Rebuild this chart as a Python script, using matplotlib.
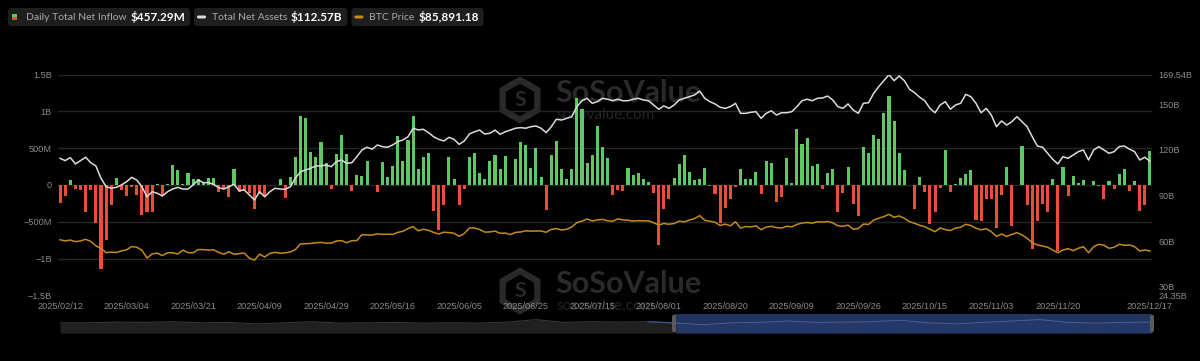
import numpy as np
import pandas as pd
import matplotlib
matplotlib.use("Agg")
import matplotlib.pyplot as plt
import matplotlib.transforms as mtransforms
from matplotlib.patches import FancyBboxPatch, RegularPolygon

plt.rcParams["font.family"] = ["Liberation Sans", "DejaVu Sans"]

W, H = 1200, 361

# trading days shown in the window
holidays = ["2025-02-17", "2025-04-18", "2025-05-26", "2025-06-19",
            "2025-07-04", "2025-09-01", "2025-11-27"]
dates = [d for d in pd.bdate_range("2025-02-12", "2025-12-17")
         if d.strftime("%Y-%m-%d") not in holidays]

# daily total net inflow, $M
inflow_m = [
    # Feb
    -251, -156, 70, -60, -65, -365, -62, -517, -1138, -754, -276, 94,
    # Mar
    -74, -143, -22, -134, -409, -371, -371, 13, -135, 17, 275, 209, 11, 165, 83,
    84, 27, 89, 89, -93, -60,
    # Apr
    -157, 220, -100, -65, -103, -326, -127, -150, 2, 2, 76, -170, 107, 381, 936,
    917, 442, 380, 591, 300, -56,
    # May
    422, 675, 425, -86, 142, 117, 321, 5, -91, 319, 115, 260, 667, 329, 608,
    935, 211, 385, 433, -358, -616,
    # Jun
    -268, 387, 87, -278, -48, 387, 431, 165, 86, 322, 412, 216, 389, 6, 350,
    588, 548, 226, 501, 102,
    # Jul
    -343, 407, 602, 217, 80, 218, 1180, 1030, 297, 403, 799, 523, 363, -131,
    -68, -86, 227, 131, 157, 80, 47, -114,
    # Aug
    -812, -333, -196, 91, 281, 404, 178, 66, 86, 231, -14, -122, -523, -311,
    -194, -23, 219, 88, 81, 179, -126,
    # Sep
    333, 301, -227, -160, 365, 23, 757, 553, 642, 260, 292, -51, 163, 223,
    -363, -104, 241, -258, -418, 522, 430,
    # Oct
    676, 627, 985, 1210, 875, 441, 198, -4.5, -327, 102, -94, -537, -367, -40,
    477, -101, 20, 90, 149, 202, -471, -488, -191,
    # Nov
    -187, -578, -137, 240, -558, 1, 524, -278, -870, -492, -254, -373, 75,
    -903, 238, -151, 129, 21, 71,
    # Dec
    -4, 58, -14, -195, 55, -60, 152, 224, -78, 49, -358, -277, 457.29,
]

# total net assets, $B
net_assets_b = [
    114.5, 113.0, 115.0, 110.8, 113.0, 115.2, 111.6, 109.5, 101.4, 95.8,
    94.8, 95.4, 97.0, 99.1, 102.0, 100.2, 95.8, 89.2, 92.5, 91.5,
    89.7, 92.5, 94.3, 95.4, 94.3, 94.3, 97.0, 100.2, 98.5, 98.5,
    97.4, 95.2, 94.3, 95.8, 97.4, 93.2, 93.7, 90.4, 87.1, 92.5,
    89.2, 92.5, 94.8, 94.3, 94.1, 95.8, 101.4, 105.7, 106.8, 108.0,
    109.5, 109.5, 110.1, 109.0, 112.3, 113.4, 111.2, 111.6, 115.6, 120.0,
    121.8, 120.5, 123.3, 122.2, 121.8, 123.3, 125.5, 126.6, 128.7, 134.3,
    133.2, 133.6, 131.4, 128.7, 127.0,
    125.9, 128.3, 127.0, 123.7, 125.9, 130.5, 132.0, 133.1, 130.5, 131.0,
    133.1, 130.3, 132.0, 133.1, 134.3, 134.7, 134.3, 135.3, 135.8, 134.3,
    131.4, 135.3, 140.2, 139.7, 140.8, 141.9, 148.5, 152.4, 154.0, 150.7,
    151.8, 154.0, 153.4, 152.4, 153.4, 152.4, 152.4, 153.4, 154.0, 152.9,
    152.4, 149.6, 146.8, 149.0, 147.4, 149.6, 152.9, 154.0, 155.1, 156.2,
    158.8, 154.0, 151.8, 150.3, 148.1, 147.4, 148.5, 150.7, 144.1, 144.1,
    144.8, 145.2, 140.8, 144.1, 145.8, 143.0, 144.5, 144.5, 145.2, 148.5,
    152.4, 153.4, 152.4, 154.0,
    154.2, 155.5, 152.9, 148.5, 147.4, 150.3, 146.3, 144.1, 150.7, 151.1,
    157.3, 161.7, 165.6, 169.54, 165.6, 168.7, 165.6, 160.0, 157.7, 154.7,
    152.4, 147.4, 144.5, 149.6, 151.8, 146.8, 149.6, 150.7, 156.6, 155.1,
    150.7, 144.5, 147.4, 143.0, 135.3, 139.1, 136.4, 138.6, 141.9, 138.6,
    135.3, 128.7, 122.6, 121.8, 117.8, 113.9, 110.8, 115.6, 114.5, 116.7,
    118.9, 120.0, 113.4, 120.0, 122.2, 120.0, 117.8, 118.9, 122.2, 122.6,
    120.5, 118.9, 113.4, 115.2, 112.57,
]

# BTC price, $K
btc_price_k = [
    97.8, 96.6, 97.5, 95.8, 96.6, 98.3, 96.1, 91.4, 88.7, 84.3, 84.7, 84.4,
    86.1, 87.2, 90.6, 89.9, 86.7, 78.5, 82.9, 83.7, 81.1, 84.0, 84.1, 82.7,
    86.8, 84.2, 84.0, 87.5, 87.4, 86.9, 87.2, 84.4, 82.5,
    85.2, 82.5, 83.1, 83.8, 78.4, 76.3, 82.6, 79.6, 83.4, 84.5, 83.6, 84.0,
    84.9, 87.5, 93.4, 93.7, 93.9, 94.7, 95.0, 94.3, 94.2,
    96.5, 96.9, 94.7, 96.8, 97.0, 103.2, 102.9, 102.8, 104.1, 103.5, 103.7,
    103.5, 105.6, 106.8, 109.6, 111.7, 107.3, 108.9, 107.8, 105.6, 103.9,
    105.8, 105.4, 104.7, 101.5, 104.4, 110.3, 110.3, 108.7, 105.9, 106.1,
    107.0, 104.6, 104.9, 103.3, 105.6, 106.0, 107.3, 106.9, 107.1, 107.1,
    105.7, 108.8, 109.6, 108.2, 108.9, 111.3, 115.9, 117.5, 119.8, 117.7,
    118.8, 119.3, 117.9, 117.4, 119.9, 118.8, 118.4, 117.6, 118.0, 117.9,
    117.8, 115.8,
    113.3, 115.0, 114.2, 115.0, 117.5, 116.7, 118.7, 120.2, 123.3, 118.4,
    117.4, 116.3, 112.9, 114.3, 112.5, 116.9, 110.1, 111.8, 111.3, 112.6, 108.4,
    111.2, 112.0, 110.7, 110.2, 112.1, 111.5, 114.0, 115.5, 116.0, 115.4, 116.8,
    116.5, 117.1, 115.7, 112.7, 112.0, 113.3, 109.0, 109.7, 114.4, 114.0,
    118.6, 120.6, 122.3, 124.7, 121.6, 123.0, 120.5, 116.9, 115.2, 113.1,
    111.6, 108.9, 106.3, 110.3, 108.5, 107.6, 110.1, 111.0, 114.1, 112.9,
    110.0, 108.3, 109.6, 106.3, 101.4, 103.9, 101.3, 103.4, 105.3, 102.9,
    99.4, 94.7, 92.3, 91.2, 89.9, 87.0, 84.1, 87.0, 88.4, 86.3,
    88.8, 90.5, 84.1, 90.5, 93.0, 92.0, 88.8, 89.9, 93.0, 92.0,
    92.3, 90.5, 85.9, 87.0, 85.89,
]

# overview strip under the chart (whole history, coarse)
slider_line = [10.2, 10.2, 10.9, 10.6, 11.3, 10.2, 10.6, 9.1, 10.2, 11.3,
               9.9, 10.2, 10.6, 9.9, 10.2, 9.9, 10.9, 13.4, 10.6, 11.3,
               10.9, 11.3, 9.9, 8.4, 10.2, 10.6, 12.0, 10.6, 10.9, 11.3,
               12.7, 10.2, 9.1, 10.6, 12.0, 13.4, 10.6, 9.9, 10.6, 10.9]

left_ticks = [-1.5e9, -1e9, -5e8, 0, 5e8, 1e9, 1.5e9]
left_labels = ["\u22121.5B", "\u22121B", "\u2212500M", "0", "500M", "1B", "1.5B"]
right_ticks = [24.35, 30, 60, 90, 120, 150, 169.54]
right_labels = ["24.35B", "30B", "60B", "90B", "120B", "150B", "169.54B"]

legend_items = [("Daily Total Net Inflow", "$457.29M"),
                ("Total Net Assets", "$112.57B"),
                ("BTC Price", "$85,891.18")]

GREEN = "#5cc866"
RED = "#ec4c3c"
WHITE_LINE = "#dcdcdc"
ORANGE = "#c48a1f"
GRID = "#262626"
TICK = "#8a8a8a"

fig = plt.figure(figsize=(W / 100, H / 100), dpi=100, facecolor="black")
# pixel coords, origin top-left
px = mtransforms.Affine2D().scale(1 / W, -1 / H).translate(0, 1) + fig.transFigure


def box(x0, y0, x1, y1):
    return [x0 / W, 1 - y1 / H, (x1 - x0) / W, (y1 - y0) / H]


ax = fig.add_axes(box(58, 74.7, 1152, 295.3))
ax.set_facecolor("none")
x = np.arange(len(inflow_m))
vals = np.array(inflow_m) * 1e6
ax.bar(x, vals, width=0.6, color=[GREEN if v >= 0 else RED for v in vals],
       zorder=3)
ax.set_xlim(-0.4, len(x) - 0.6)
ax.set_ylim(-1.5e9, 1.5e9)
ax.set_yticks(left_ticks)
ax.set_yticklabels(left_labels)
ax.grid(axis="y", color=GRID, lw=1, zorder=0)
tick_idx = list(range(0, len(dates) - 14, 13)) + [len(dates) - 1]
ax.set_xticks(tick_idx)
ax.set_xticklabels([dates[i].strftime("%Y/%m/%d") for i in tick_idx])
ax.tick_params(axis="both", length=0, labelsize=6.6, labelcolor=TICK)
ax.tick_params(axis="y", pad=4.5)
ax.tick_params(axis="x", pad=5)
for s in ax.spines.values():
    s.set_visible(False)

# watermark, behind the marks
wm = "#2a2a2a"
for cy in (100, 291):
    ax.add_patch(RegularPolygon((520, cy), numVertices=6, radius=20,
                                facecolor="none", edgecolor=wm, lw=4.5,
                                transform=px, clip_on=False, zorder=1))
    ax.text(520, cy, "S", transform=px, color=wm, fontsize=15,
            fontweight="bold", ha="center", va="center", family="Lato",
            clip_on=False, zorder=1)
    ax.text(555, cy - 7, "SoSoValue", transform=px, color=wm, fontsize=22,
            fontweight="bold", ha="left", va="center", family="Lato",
            clip_on=False, zorder=1)
    ax.text(556, cy + 15, "sosovalue.com", transform=px, color="#242424",
            fontsize=11, ha="left", va="center", family="Lato",
            clip_on=False, zorder=1)

ax2 = ax.twinx()
ax2.plot(np.arange(len(net_assets_b)), net_assets_b, color=WHITE_LINE, lw=1.1)
ax2.set_ylim(24.35, 169.54)
ax2.set_yticks(right_ticks)
ax2.set_yticklabels(right_labels)
ax2.tick_params(axis="y", length=0, pad=4.5, labelsize=6.6, labelcolor=TICK)
for s in ax2.spines.values():
    s.set_visible(False)

ax3 = ax.twinx()
ax3.plot(np.arange(len(btc_price_k)), btc_price_k, color=ORANGE, lw=1.1)
ax3.set_ylim(39.1, 272.3)
ax3.axis("off")

# legend chips, laid out from measured text widths
renderer = fig.canvas.get_renderer()
chip_x = 8
chip_starts = []
for lab, val in legend_items:
    t1 = fig.text(chip_x + 18, 17.3, lab, transform=px, color="#a8a8a8",
                  fontsize=7.5, family="Lato", ha="left", va="center")
    w1 = t1.get_window_extent(renderer).width
    t2 = fig.text(chip_x + 18 + w1 + 3.5, 17.3, val, transform=px,
                  color="white", fontsize=8.5, fontweight="bold",
                  family="Lato", ha="left", va="center")
    w2 = t2.get_window_extent(renderer).width
    chip_w = 18 + w1 + 3.5 + w2 + 5
    fig.add_artist(FancyBboxPatch((chip_x, 8), chip_w, 18,
                                  boxstyle="round,pad=0,rounding_size=3",
                                  facecolor="#1e1e1e", edgecolor="none",
                                  transform=px, zorder=0.5))
    chip_starts.append(chip_x)
    chip_x += chip_w + 4

c0, c1, c2 = chip_starts
fig.add_artist(FancyBboxPatch((c0 + 4, 13.5), 5, 3.2, boxstyle="square,pad=0",
                              facecolor=GREEN, edgecolor="none", transform=px))
fig.add_artist(FancyBboxPatch((c0 + 4, 16.7), 5, 3.3, boxstyle="square,pad=0",
                              facecolor=RED, edgecolor="none", transform=px))
fig.add_artist(FancyBboxPatch((c1 + 3, 15.5), 9, 3, boxstyle="round,pad=0,rounding_size=1.4",
                              facecolor=WHITE_LINE, edgecolor="none", transform=px))
fig.add_artist(FancyBboxPatch((c2 + 3, 15.5), 9, 3, boxstyle="round,pad=0,rounding_size=1.4",
                              facecolor=ORANGE, edgecolor="none", transform=px))

# overview strip
sel = (674 - 60) / (1152 - 60)
axs = fig.add_axes(box(60, 314, 1152, 333))
axs.set_facecolor("#1b1b1b")
axs.axvspan(sel, 1, color="#21345e", lw=0)
sx = np.linspace(0, 1, len(slider_line))
sy = np.array(slider_line)
axs.fill_between(sx, 0, sy, color="#202020", lw=0)
axs.plot(sx, sy, color="#363636", lw=0.8)
m = sx >= sel - 0.03
axs.fill_between(sx[m], 0, sy[m], where=sx[m] >= sel, color="#24386a", lw=0)
axs.plot(sx[m], sy[m], color="#3e5c9e", lw=0.8)
axs.set_xlim(0, 1)
axs.set_ylim(0, 19)
axs.axis("off")
for hx in (672, 1150):
    fig.add_artist(FancyBboxPatch((hx, 315), 4, 17, boxstyle="round,pad=0,rounding_size=1.5",
                                  facecolor="#5a5a5a", edgecolor="none", transform=px))

fig.savefig("out.png", dpi=100, facecolor="black")
